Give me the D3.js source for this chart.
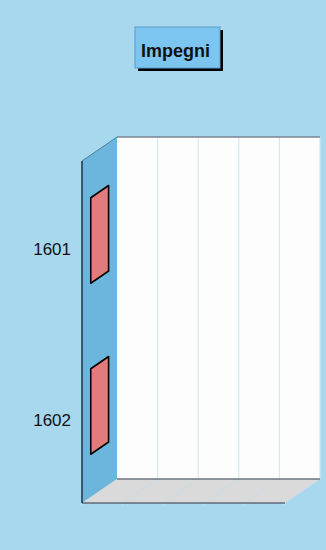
<!DOCTYPE html>
<html><head><meta charset="utf-8">
<script src="https://cdn.jsdelivr.net/npm/d3@7"></script>
<style>html,body{margin:0;padding:0;background:#a8d8ee;}svg{display:block;}</style>
</head><body>
<script>
const categories = ["1601", "1602"];
const values = [0, 0];
const xTicks = [0, 1, 2, 3, 4, 5];
const title = "Impegni";

const W = 326, H = 550;
const svg = d3.select("body").append("svg").attr("width", W).attr("height", H);
svg.append("rect").attr("width", W).attr("height", H).attr("fill", "#a8d8ee");

// plot geometry (front plane)
const pLeft = 82, pRight = 285, pTop = 161, pBottom = 503;
const DX = 35, DY = 24;

const x = d3.scaleLinear().domain([0, 5]).range([pLeft, pRight]);
const y = d3.scaleBand().domain(categories).range([pTop, pBottom]).paddingInner(0.5).paddingOuter(0.25);
const P = (px, py, d) => [px + DX * d, py - DY * d];
const poly = pts => "M" + pts.map(p => p.join(",")).join("L") + "Z";

// back wall
svg.append("path").attr("d", poly([P(pLeft, pTop, 1), P(pRight, pTop, 1), P(pRight, pBottom, 1), P(pLeft, pBottom, 1)]))
  .attr("fill", "#fdfdfd");
// left wall
svg.append("path").attr("d", poly([P(pLeft, pTop, 0), P(pLeft, pTop, 1), P(pLeft, pBottom, 1), P(pLeft, pBottom, 0)]))
  .attr("fill", "#6cb5dd");
// floor
svg.append("path").attr("d", poly([P(pLeft, pBottom, 0), P(pLeft, pBottom, 1), P(pRight, pBottom, 1), P(pRight, pBottom, 0)]))
  .attr("fill", "#dadada");

// grid lines on back wall and floor
xTicks.forEach(t => {
  const xv = x(t);
  if (t > 0) {
    svg.append("line").attr("x1", P(xv, pTop, 1)[0]).attr("y1", P(xv, pTop, 1)[1])
      .attr("x2", P(xv, pBottom, 1)[0]).attr("y2", P(xv, pBottom, 1)[1])
      .attr("stroke", "#d3e8f2").attr("stroke-width", 1.2);
    svg.append("line").attr("x1", P(xv, pBottom, 0)[0]).attr("y1", P(xv, pBottom, 0)[1])
      .attr("x2", P(xv, pBottom, 1)[0]).attr("y2", P(xv, pBottom, 1)[1])
      .attr("stroke", "#c6dcea").attr("stroke-width", 1);
  }
  svg.append("line").attr("x1", xv).attr("y1", pBottom).attr("x2", xv).attr("y2", pBottom + 2)
    .attr("stroke", "#d0e4ee").attr("stroke-width", 1);
});

// edges
svg.append("line").attr("x1", P(pLeft, pTop, 1)[0]).attr("y1", P(pLeft, pTop, 1)[1])
  .attr("x2", P(pRight, pTop, 1)[0]).attr("y2", P(pRight, pTop, 1)[1]).attr("stroke", "#7a8590").attr("stroke-width", 1.5);
svg.append("line").attr("x1", P(pLeft, pBottom, 1)[0]).attr("y1", P(pLeft, pBottom, 1)[1])
  .attr("x2", P(pRight, pBottom, 1)[0]).attr("y2", P(pRight, pBottom, 1)[1]).attr("stroke", "#6d7480").attr("stroke-width", 1.5);
svg.append("line").attr("x1", pLeft).attr("y1", pBottom).attr("x2", pRight).attr("y2", pBottom)
  .attr("stroke", "#5f6878").attr("stroke-width", 1.6);
svg.append("line").attr("x1", pLeft).attr("y1", pTop).attr("x2", pLeft).attr("y2", pBottom)
  .attr("stroke", "#2a3550").attr("stroke-width", 1.6);
svg.append("line").attr("x1", pLeft).attr("y1", pTop).attr("x2", P(pLeft, pTop, 1)[0]).attr("y2", P(pLeft, pTop, 1)[1])
  .attr("stroke", "#4f7fa0").attr("stroke-width", 1);

// bars (3D boxes)
const d0 = 0.25, d1 = 0.76;
categories.forEach((c, i) => {
  const y0 = y(c), y1 = y(c) + y.bandwidth();
  const x0 = x(0), x1 = x(values[i]);
  const g = svg.append("g").attr("stroke", "#000").attr("stroke-width", 1.6).attr("stroke-linejoin", "round");
  if (x1 > x0) {
    g.append("path").attr("d", poly([P(x0, y0, d0), P(x1, y0, d0), P(x1, y1, d0), P(x0, y1, d0)])).attr("fill", "#e07b7b");
    g.append("path").attr("d", poly([P(x0, y0, d0), P(x0, y0, d1), P(x1, y0, d1), P(x1, y0, d0)])).attr("fill", "#ea9a9a");
  }
  g.append("path").attr("d", poly([P(x1, y0, d0), P(x1, y0, d1), P(x1, y1, d1), P(x1, y1, d0)])).attr("fill", "#e27c7c");
  svg.append("text").attr("x", 71).attr("y", y0 + y.bandwidth() / 2 + 8)
    .attr("text-anchor", "end").attr("font-family", "Liberation Sans, Arial, sans-serif")
    .attr("font-size", 17).attr("fill", "#111").text(c);
});

// title box
const tb = { x: 135, y: 27, w: 85, h: 41 };
svg.append("rect").attr("x", tb.x + 3).attr("y", tb.y + 3).attr("width", tb.w).attr("height", tb.h).attr("fill", "#000");
svg.append("rect").attr("x", tb.x).attr("y", tb.y).attr("width", tb.w).attr("height", tb.h)
  .attr("fill", "#7cc5f0").attr("stroke", "#5a9cc8").attr("stroke-width", 1);
svg.append("text").attr("x", 175.5).attr("y", 56.5).attr("text-anchor", "middle")
  .attr("font-family", "Liberation Sans, Arial, sans-serif").attr("font-weight", "bold").attr("font-size", 18)
  .attr("fill", "#111").text(title);
</script>
</body></html>
